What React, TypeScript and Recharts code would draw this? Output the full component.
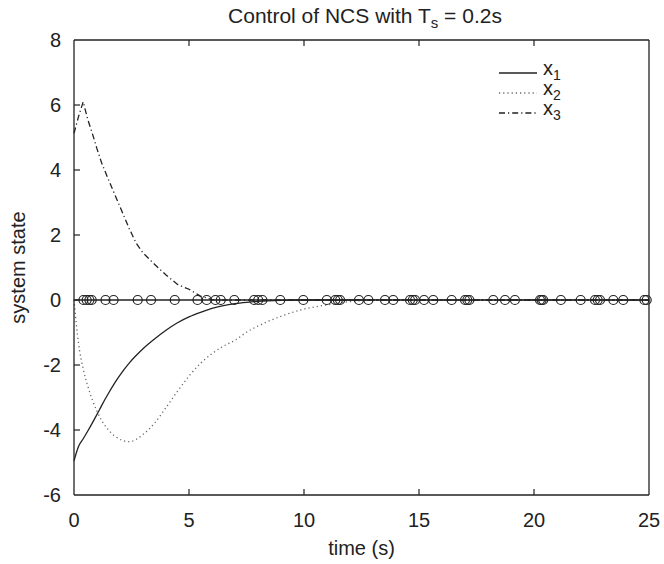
import React from "react";
import { ComposedChart, Line, XAxis, YAxis, ReferenceLine } from "recharts";

// sample times (s) and the three states
const times = [0, 0.2, 0.4, 0.6, 0.8, 1.0, 1.2, 1.5, 1.8, 2.1, 2.4, 2.7, 3.0, 3.5, 4, 4.5, 5, 5.5, 6, 6.5, 7, 7.5, 8, 9, 10, 11, 12, 13, 15, 20, 25];
const x1 = [-4.95, -4.5, -4.27, -4.03, -3.78, -3.52, -3.25, -2.87, -2.52, -2.21, -1.94, -1.71, -1.5, -1.2, -0.93, -0.7, -0.52, -0.38, -0.26, -0.17, -0.11, -0.07, -0.04, -0.01, 0, 0, 0, 0, 0, 0, 0];
const x2 = [0, -1.35, -2.12, -2.65, -3.08, -3.42, -3.7, -4.0, -4.2, -4.32, -4.36, -4.29, -4.14, -3.79, -3.31, -2.81, -2.34, -1.95, -1.65, -1.42, -1.24, -0.99, -0.8, -0.5, -0.28, -0.15, -0.05, -0.01, 0, 0, 0];
const x3 = [5.13, 5.65, 6.1, 5.55, 5.12, 4.65, 4.22, 3.7, 3.2, 2.7, 2.2, 1.75, 1.45, 1.1, 0.77, 0.48, 0.33, 0.12, 0.01, 0, 0, 0, 0, 0, 0, 0, 0, 0, 0, 0, 0];

// transmission instants (circles on the zero line)
const eventTimes = [0.41, 0.55, 0.67, 0.77, 1.37, 1.72, 2.77, 3.35, 4.38, 5.37, 5.77, 6.15, 6.38, 6.97, 7.83, 8.01, 8.19, 8.97, 9.97, 10.99, 11.36, 11.47, 11.57, 12.39, 12.8, 13.52, 13.88, 14.61, 14.73, 14.83, 15.22, 15.62, 16.42, 17.0, 17.1, 17.19, 18.23, 18.74, 19.17, 20.26, 20.33, 20.4, 21.17, 22.03, 22.65, 22.77, 22.87, 23.45, 23.88, 24.8, 24.9];

const xTicks = [0, 5, 10, 15, 20, 25];
const yTicks = [-6, -4, -2, 0, 2, 4, 6, 8];

const data = times.map((t, i) => ({ t, x1: x1[i], x2: x2[i], x3: x3[i] }));
const events = eventTimes.map((t) => ({ t, v: 0 }));

const FONT = '"Liberation Sans", Arial, Helvetica, sans-serif';
const INK = "#222";

const BottomTick = (props: any) => {
  const { x, y, payload } = props;
  const v = payload.value;
  return (
    <g>
      {v > 0 && v < 25 && <line x1={x} y1={y} x2={x} y2={y - 6} stroke={INK} strokeWidth={1.2} />}
      <text x={x} y={y + 32} textAnchor="middle" fontSize={20} fill={INK} fontFamily={FONT}>
        {v}
      </text>
    </g>
  );
};

const TopTick = (props: any) => {
  const { x, y, payload } = props;
  const v = payload.value;
  if (v <= 0 || v >= 25) return <g />;
  return <line x1={x} y1={y} x2={x} y2={y + 6} stroke={INK} strokeWidth={1.2} />;
};

const LeftTick = (props: any) => {
  const { x, y, payload } = props;
  const v = payload.value;
  return (
    <g>
      {v > -6 && v < 8 && <line x1={x} y1={y} x2={x + 6} y2={y} stroke={INK} strokeWidth={1.2} />}
      <text x={x - 13} y={y + 7} textAnchor="end" fontSize={20} fill={INK} fontFamily={FONT}>
        {v}
      </text>
    </g>
  );
};

const RightTick = (props: any) => {
  const { x, y, payload } = props;
  const v = payload.value;
  if (v <= -6 || v >= 8) return <g />;
  return <line x1={x} y1={y} x2={x - 6} y2={y} stroke={INK} strokeWidth={1.2} />;
};

const legendItems = [
  { name: "1", dash: undefined, color: INK },
  { name: "2", dash: "1.2 3", color: "#666" },
  { name: "3", dash: "6 3 1.2 3", color: INK },
];

const LegendBox = () => (
  <div style={{ position: "absolute", left: 499, top: 63, fontFamily: FONT, fontSize: 20, color: INK }}>
    {legendItems.map((it) => (
      <div key={it.name} style={{ height: 20, display: "flex", alignItems: "center" }}>
        <svg width={38} height={20}>
          <line x1={0} y1={10} x2={38} y2={10} stroke={it.color} strokeWidth={1.3} strokeDasharray={it.dash} />
        </svg>
        <span style={{ marginLeft: 6, lineHeight: "20px", position: "relative", top: -2 }}>
          x<sub style={{ fontSize: 14, verticalAlign: "-5px" }}>{it.name}</sub>
        </span>
      </div>
    ))}
  </div>
);

export default function App() {
  return (
    <div style={{ position: "absolute", left: 0, top: 0, width: 664, height: 564, background: "#fff", fontFamily: FONT }}>
      <div style={{ position: "absolute", left: 0, top: 5, width: 730, textAlign: "center", fontSize: 21, lineHeight: "21px", color: INK }}>
        Control of NCS with T<sub style={{ fontSize: 15, verticalAlign: "-5px" }}>s</sub> = 0.2s
      </div>
      <ComposedChart width={664} height={564} data={data} margin={{ top: 0, right: 0, bottom: 0, left: 0 }}>
        <XAxis
          dataKey="t"
          type="number"
          domain={[0, 25]}
          ticks={xTicks}
          height={69}
          tickSize={0}
          tickMargin={0}
          tickLine={false}
          tick={<BottomTick />}
          axisLine={{ stroke: INK, strokeWidth: 1.3 }}
          label={{ value: "time (s)", position: "insideBottom", offset: 9, fontSize: 20, fill: INK, fontFamily: FONT }}
        />
        <XAxis
          xAxisId="top"
          orientation="top"
          dataKey="t"
          type="number"
          domain={[0, 25]}
          ticks={xTicks}
          height={40}
          tickSize={0}
          tickMargin={0}
          tickLine={false}
          tick={<TopTick />}
          axisLine={{ stroke: INK, strokeWidth: 1.3 }}
        />
        <YAxis
          type="number"
          domain={[-6, 8]}
          ticks={yTicks}
          width={74}
          tickSize={0}
          tickMargin={0}
          tickLine={false}
          tick={<LeftTick />}
          axisLine={{ stroke: INK, strokeWidth: 1.3 }}
          label={{ value: "system state", angle: -90, position: "insideLeft", offset: 18, fontSize: 20, fill: INK, fontFamily: FONT, style: { textAnchor: "middle" } }}
        />
        <YAxis
          yAxisId="right"
          orientation="right"
          type="number"
          domain={[-6, 8]}
          ticks={yTicks}
          width={15}
          tickSize={0}
          tickMargin={0}
          tickLine={false}
          tick={<RightTick />}
          axisLine={{ stroke: INK, strokeWidth: 1.3 }}
        />
        <ReferenceLine y={0} stroke={INK} strokeWidth={1.3} />
        <Line type="monotone" dataKey="x1" stroke={INK} strokeWidth={1.3} dot={false} isAnimationActive={false} />
        <Line type="monotone" dataKey="x2" stroke="#666" strokeWidth={1.3} strokeDasharray="1.2 3" dot={false} isAnimationActive={false} />
        <Line type="linear" dataKey="x3" stroke={INK} strokeWidth={1.3} strokeDasharray="6 3 1.2 3" dot={false} isAnimationActive={false} />
        <Line
          data={events}
          dataKey="v"
          stroke="none"
          legendType="none"
          dot={{ r: 4.5, stroke: INK, strokeWidth: 1.2, fill: "none" }}
          isAnimationActive={false}
        />
      </ComposedChart>
      <LegendBox />
    </div>
  );
}
